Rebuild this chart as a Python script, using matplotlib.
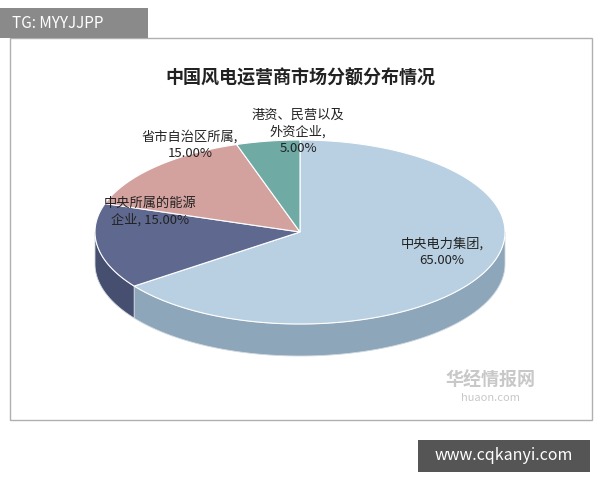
import numpy as np
import matplotlib
matplotlib.use("Agg")
import matplotlib.pyplot as plt
from matplotlib.patches import Polygon, Rectangle

plt.rcParams['font.family'] = ['Noto Sans CJK SC', 'DejaVu Sans']

labels = ["中央电力集团,\n65.00%", "中央所属的能源\n企业, 15.00%", "省市自治区所属,\n15.00%", "港资、民营以及\n外资企业,\n5.00%"]
shares = [65.0, 15.0, 15.0, 5.0]
tops = ["#b9d0e2", "#5f6990", "#d4a29e", "#70aaa5"]
sides = ["#8ea6ba", "#464f70", "#a97e7a", "#4f8580"]
label_pos = [(442, 252), (150, 212), (190, 145), (298, 132)]

fig = plt.figure(figsize=(6, 4.8), dpi=100)
ax = fig.add_axes([0, 0, 1, 1])
ax.set_xlim(0, 600); ax.set_ylim(480, 0); ax.axis('off')

ax.add_patch(Rectangle((10, 38), 582, 382, fill=False, ec="#b0b0b0", lw=1))
cx, cy, rx, ry, d = 300, 232, 205, 92, 32

def pt(t, dy=0):
    return (cx + rx*np.cos(t), cy - ry*np.sin(t) + dy)

angs = []
a = np.pi/2
for s in shares:
    b = a - 2*np.pi*s/100
    angs.append((a, b)); a = b

# side walls
for (a, b), c in zip(angs, sides):
    t = np.linspace(a, b, 300)
    t = t[np.sin(t) <= 0.001]
    if len(t) < 2: continue
    top = [pt(x) for x in t]
    bot = [pt(x, d) for x in t[::-1]]
    ax.add_patch(Polygon(top + bot, closed=True, fc=c, ec="#cfd8e0", lw=0.6))
# tops
for (a, b), c in zip(angs, tops):
    t = np.linspace(a, b, 300)
    ax.add_patch(Polygon([(cx, cy)] + [pt(x) for x in t], closed=True, fc=c, ec="white", lw=0.8))

for l, (x, y) in zip(labels, label_pos):
    ax.text(x, y, l, ha='center', va='center', fontsize=9.5, color="#222222", linespacing=1.3)

ax.text(300, 78, "中国风电运营商市场分额分布情况", ha='center', va='center', fontsize=13, fontweight='bold', color="#222222")
ax.text(490, 380, "华经情报网", ha='center', va='center', fontsize=13, fontweight='bold', color="#c8c8c8")
ax.text(490, 398, "huaon.com", ha='center', va='center', fontsize=8, color="#c8c8c8")

ax.add_patch(Rectangle((0, 8), 148, 30, fc="#8a8a8a", ec="none"))
ax.text(12, 23, "TG: MYYJJPP", ha='left', va='center', fontsize=11, color="white")
ax.add_patch(Rectangle((418, 440), 172, 32, fc="#555555", ec="none"))
ax.text(504, 456, "www.cqkanyi.com", ha='center', va='center', fontsize=11.5, color="white")

fig.savefig("out.png", dpi=100, facecolor="white")
